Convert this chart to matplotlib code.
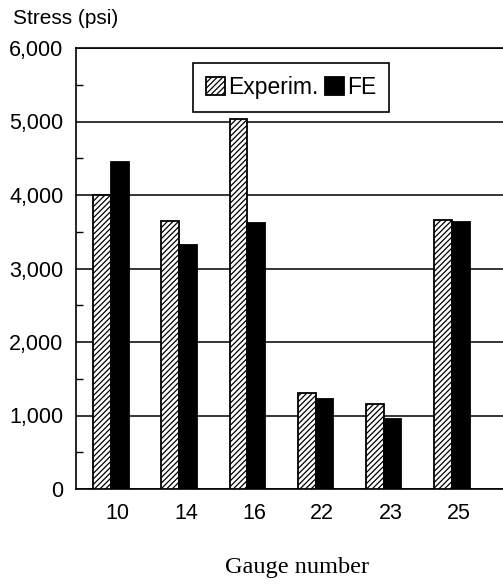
import numpy as np
import matplotlib
matplotlib.use("Agg")
import matplotlib.pyplot as plt
from matplotlib.ticker import MultipleLocator, FuncFormatter

# Data
gauges = ["10", "14", "16", "22", "23", "25"]
experim = [4000, 3650, 5030, 1300, 1150, 3660]
fe = [4450, 3320, 3620, 1230, 950, 3630]

plt.rcParams["font.family"] = ["Liberation Sans", "DejaVu Sans"]
plt.rcParams["hatch.linewidth"] = 0.9

fig = plt.figure(figsize=(5.03, 5.84), dpi=100)
ax = fig.add_axes([76/503, 1-489/584, (503-76)/503, (489-48)/584])

x = np.arange(len(gauges))
w = 0.26
ax.bar(x - w/2, experim, w, color="white", edgecolor="black", hatch="//////",
       linewidth=1.3, label="Experim.", zorder=3)
ax.bar(x + w/2, fe, w, color="black", edgecolor="black", linewidth=1.3,
       label="FE", zorder=3)

ax.set_ylim(0, 6000)
ax.set_xlim(-0.513, 5.75)
ax.yaxis.set_major_locator(MultipleLocator(1000))
ax.yaxis.set_minor_locator(MultipleLocator(500))
ax.yaxis.set_major_formatter(FuncFormatter(lambda v, p: f"{int(v):,}"))
ax.grid(axis="y", color="black", linewidth=1.1, zorder=1)
ax.tick_params(axis="y", which="major", length=0, pad=9, labelsize=15.5)
ax.tick_params(axis="y", which="minor", direction="in", length=5, width=1)
ax.set_xticks(x + 0.1)
ax.set_xticklabels(gauges)
ax.tick_params(axis="x", length=0, pad=10, labelsize=15.5)

for s in ["right"]:
    ax.spines[s].set_visible(False)
for s in ["left", "bottom", "top"]:
    ax.spines[s].set_linewidth(1.2)

leg = ax.legend(loc="center", bbox_to_anchor=(291/503, 1-87.5/584),
                bbox_transform=fig.transFigure, ncol=2, fontsize=16.5,
                frameon=True, fancybox=False, handlelength=0.85, handleheight=0.85,
                handletextpad=0.12, columnspacing=0.3, borderpad=0.55,
                borderaxespad=0)
leg.get_frame().set_edgecolor("black")
leg.get_frame().set_linewidth(1.2)
leg.get_frame().set_alpha(1)

fig.text(13/503, 1-18/584, "Stress (psi)", fontsize=15, va="center", ha="left")
fig.text(297/503, 1-567/584, "Gauge number", fontsize=17.5, va="center",
         ha="center", family=["Liberation Serif", "DejaVu Serif"])

fig.savefig("out.png", dpi=100)
